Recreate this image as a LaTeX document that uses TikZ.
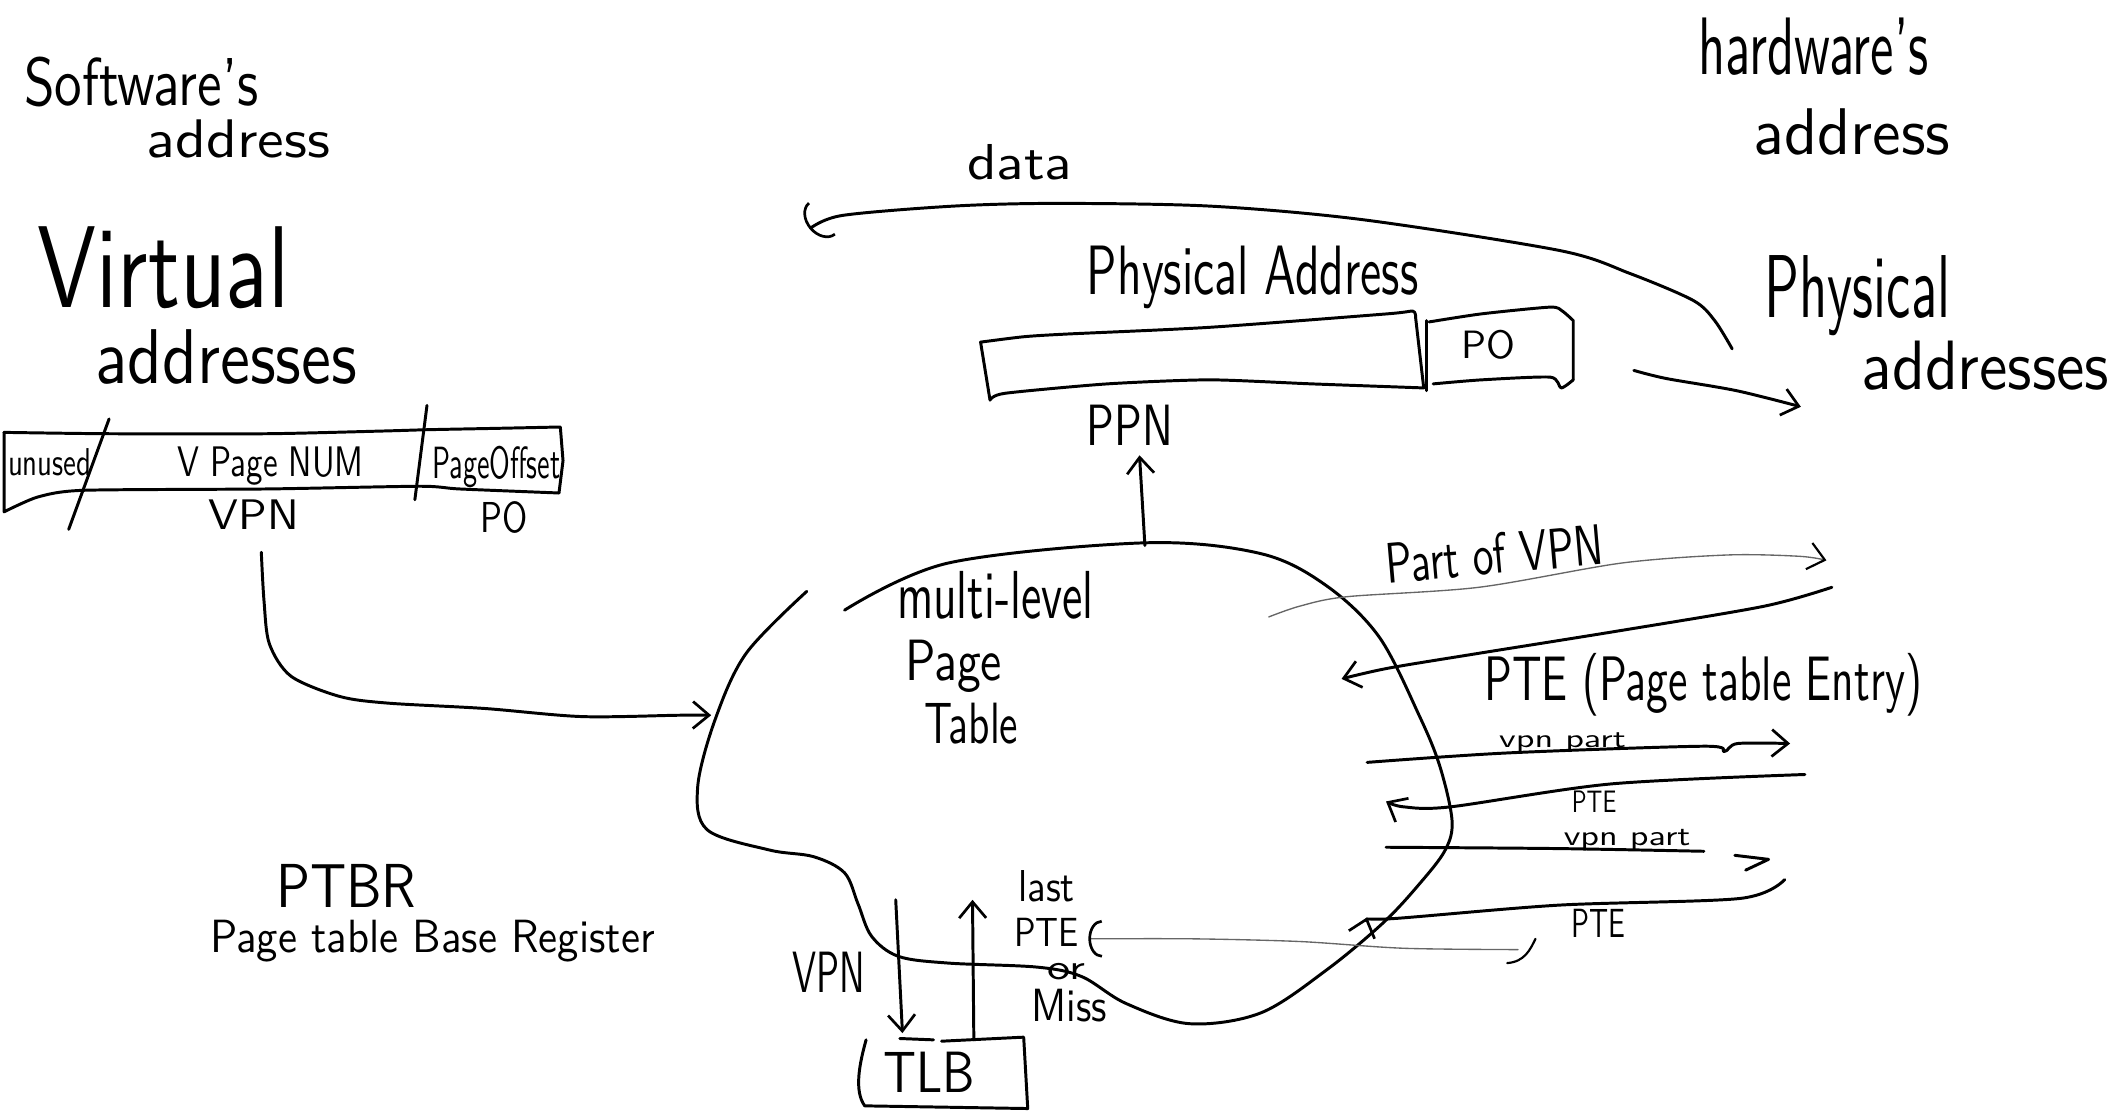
\documentclass[tikz,border=0pt]{standalone}
\usepackage{graphicx}
\usetikzlibrary{arrows.meta}
\newlength\px
\setlength\px{0.5pt}
\newcommand\hw[3]{\resizebox{#1\px}{#2\px}{#3}}
\tikzset{
  txt/.style={anchor=base west, inner sep=0pt, outer sep=0pt, font=\sffamily},
  ln/.style={line width=1.1pt, line cap=round, line join=round},
  gl/.style={line width=0.5pt, line cap=round, gray!80!black},
  head/.style={-{Straight Barb[length=6pt,width=10pt,line width=1pt]}},
  archead/.style={-{Arc Barb[length=5pt,width=14pt,line width=1pt,color=black]}},
}
\begin{document}
\begin{tikzpicture}[x=0.5pt,y=-0.5pt]
\useasboundingbox (0,0) rectangle (1568,831);

% ---------- texts ----------
\node[txt] (soft1) at (18,78) {\hw{174}{36}{Software's}};
\node[txt] (soft2) at (109,117) {\hw{136}{28}{address}};
\node[txt] (virt1) at (28,228) {\hw{187}{60}{Virtual}};
\node[txt] (virt2) at (71,285) {\hw{194}{40}{addresses}};
\node[txt] (hard1) at (1261,55) {\hw{171}{42}{hardware's}};
\node[txt] (hard2) at (1302,115) {\hw{146}{34}{address}};
\node[txt] (data) at (718,133) {\hw{78}{26}{data}};
\node[txt] (physA) at (807,219) {\hw{246}{36}{Physical Address}};
\node[txt] (po2) at (1085,266) {\hw{40}{21}{PO}};
\node[txt] (ppn) at (807,331) {\hw{64}{30}{PPN}};
\node[txt] (phys1) at (1310,236) {\hw{138}{46}{Physical}};
\node[txt] (phys2) at (1382,289) {\hw{184}{36}{addresses}};
\node[txt] (unused) at (6,353) {\hw{62}{20}{unused}};
\node[txt] (vpagenum) at (132,354) {\hw{138}{22}{V Page NUM}};
\node[txt] (pageoff) at (321,355) {\hw{95}{24}{PageOffset}};
\node[txt] (vpn1) at (155,393) {\hw{67}{22}{VPN}};
\node[txt] (po1) at (357,395) {\hw{35}{23}{PO}};
\node[txt] (ml) at (666,459) {\hw{146}{35}{multi-level}};
\node[txt] (page) at (672,505) {\hw{72}{30}{Page}};
\node[txt] (table) at (686,552) {\hw{70}{30}{Table}};
\node[txt, rotate=5] (partof) at (1030,433) {\hw{162}{30}{Part of VPN}};
\node[txt] (pte1) at (1102,520) {\hw{325}{35}{PTE (Page table Entry)}};
\node[txt] (vp1) at (1113,555) {\hw{94}{11}{vpn part}};
\node[txt] (pte2) at (1167,603) {\hw{33}{16}{PTE}};
\node[txt] (vp2) at (1161,628) {\hw{94}{12}{vpn part}};
\node[txt] (pte3) at (1167,696) {\hw{40}{21}{PTE}};
\node[txt] (ptbr) at (205,674) {\hw{104}{32}{PTBR}};
\node[txt] (ptbrlong) at (156,707) {\hw{330}{24}{Page table Base Register}};
\node[txt] (vpn2) at (588,737) {\hw{54}{30}{VPN}};
\node[txt] (last) at (756,669) {\hw{42}{23}{last}};
\node[txt] (pte4) at (753,703) {\hw{48}{21}{PTE}};
\node[txt] (or) at (778,727) {\hw{28}{12}{or}};
\node[txt] (miss) at (766,758) {\hw{56}{24}{Miss}};
\node[txt] (tlb) at (656,811) {\hw{68}{30}{TLB}};

% ---------- virtual address box ----------
\draw[ln] plot[smooth,tension=0.4] coordinates {(3,321) (80,322) (199,322) (284,320) (318,319) (369,318) (416,317)}
  -- (418,342) -- (415,366);
\draw[ln] plot[smooth,tension=0.4] coordinates {(415,366) (341,363) (312,361) (199,363) (62,364) (28,369) (3,380)} -- (3,321);
\draw[ln] (81,311) -- (51,393);
\draw[ln] (317,301) -- (308,371);

% ---------- physical address box ----------
\draw[ln] plot[smooth,tension=0.4] coordinates {(1051,236) (1049,231) (1030,233) (898,243) (792,248) (760,250) (728,254)} -- (735,297);
\draw[ln] plot[smooth,tension=0.4] coordinates {(735,297) (746,292) (822,285) (898,282) (974,285) (1057,288)} -- (1051,236);
\draw[ln] (1059,238) -- (1059,290);
\draw[ln] plot[smooth,tension=0.4] coordinates {(1061,239) (1100,233) (1151,228) (1160,231) (1168,238)} -- (1168,282);
\draw[ln] plot[smooth,tension=0.4] coordinates {(1168,282) (1159,288) (1151,280) (1100,282) (1064,285)};

% ---------- multi-level page table (cloud) ----------
\draw[ln] plot[smooth,tension=0.55] coordinates {(627,453) (704,418) (850,403) (936,411) (985,435) (1024,473) (1054,532) (1069,569) (1078,609) (1073,631) (1054,656) (1027,685) (985,720) (936,752) (883,760) (836,745) (803,725) (770,718) (704,715) (667,710) (647,695) (637,671) (627,648) (604,636) (571,631) (525,616) (518,584) (531,534) (554,485) (599,439)};
\coordinate (cloudtop) at (850,405);

% ---------- arrows ----------
\draw[ln, head] (cloudtop) -- (846,338);
\draw[ln, -{Arc Barb[length=6pt,width=16pt,line width=1pt]}] plot[smooth,tension=0.5] coordinates {(1286,259) (1273,238) (1257,223) (1210,203) (1158,186) (1011,163) (898,153) (784,151) (708,153) (625,160) (601,170)};
\draw[ln, head] plot[smooth,tension=0.5] coordinates {(1213,275) (1237,281) (1289,290) (1337,302)};
\draw[ln, head] plot[smooth,tension=0.5] coordinates {(194,410) (196,446) (200,478) (216,502) (252,517) (288,522) (360,526) (432,532) (504,531) (528,531)};

% right-hand traffic
\draw[gl, -{Straight Barb[length=6pt,width=10pt,line width=0.8pt,color=black]}] plot[smooth,tension=0.5] coordinates {(942,458) (965,450) (1000,443) (1098,436) (1204,418) (1283,412) (1336,413) (1356,416)};
\draw[ln, head] plot[smooth,tension=0.5] coordinates {(1360,436) (1310,450) (1204,468) (1098,485) (1031,496) (996,504)};
\draw[ln, head] plot[smooth,tension=0.5] coordinates {(1015,566) (1119,559) (1265,554) (1280,558) (1290,552) (1329,552)};
\draw[ln, head] plot[smooth,tension=0.5] coordinates {(1340,575) (1196,582) (1077,599) (1042,599) (1029,595)};
\draw[ln] plot[smooth,tension=0.5] coordinates {(1029,629) (1157,630) (1265,632)};
\draw[ln] (1288,635) -- (1313,638) -- (1296,646);
\draw[ln, head] plot[smooth,tension=0.5] coordinates {(1325,653) (1292,667) (1157,672) (1034,682) (1015,681)};

% last PTE or miss back-link
\draw[gl, archead] plot[smooth,tension=0.5] coordinates {(1127,705) (1042,704) (965,699) (886,697) (808,697)};
\draw[ln, line width=0.8pt] (1119,715) .. controls (1132,714) and (1136,705) .. (1140,697);

% ---------- TLB ----------
\draw[ln] (643,772) .. controls (638,790) and (634,810) .. (642,821) -- (763,823) -- (760,770) -- (699,773);
\draw[ln] (693,772) -- (668,771);
\draw[ln, head] (665,668) -- (670,767);
\draw[ln, head] (723,772) -- (722,668);
\end{tikzpicture}
\end{document}
